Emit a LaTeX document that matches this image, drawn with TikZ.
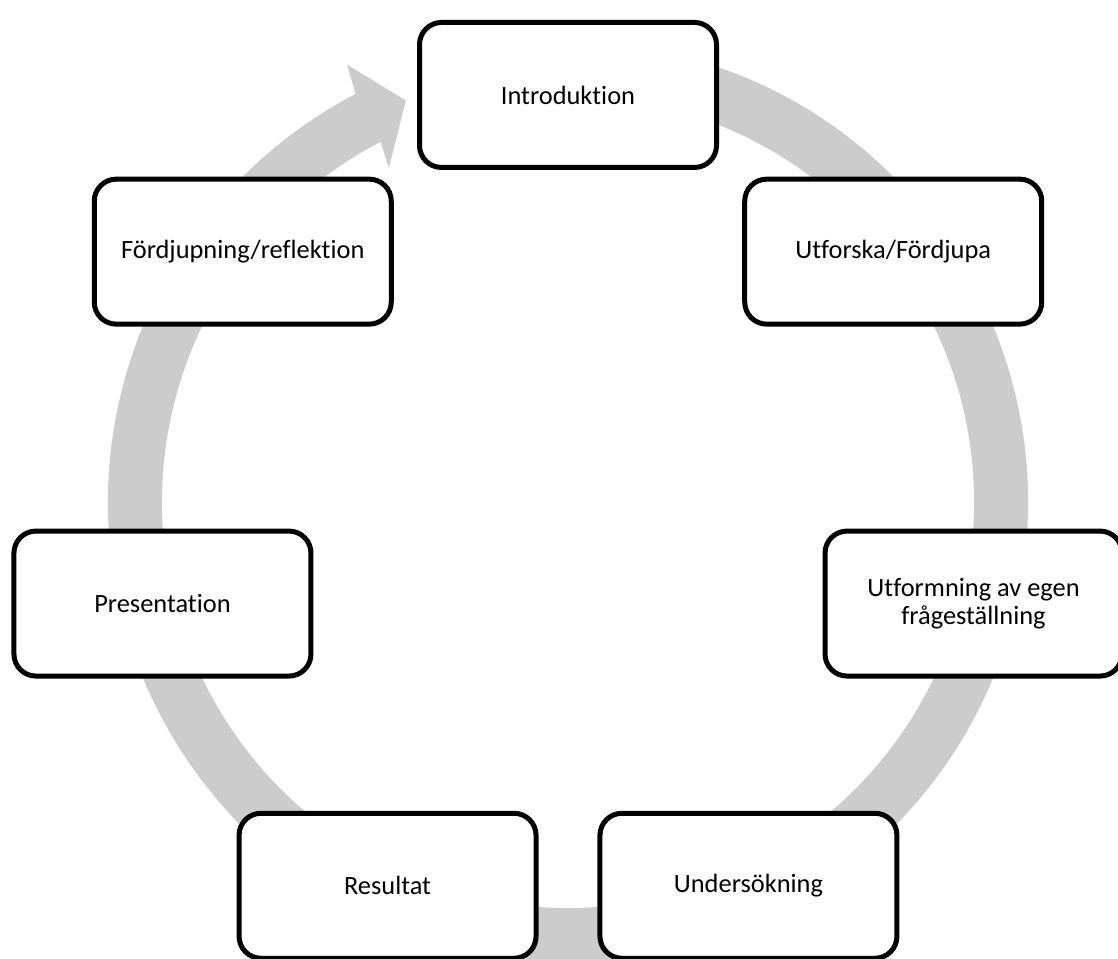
\documentclass[tikz,border=0pt]{standalone}
\usepackage{fontspec}
\setmainfont{Carlito}[Ligatures=NoCommon]
\definecolor{ringgray}{RGB}{204,204,204}
\tikzset{
  stagebox/.style={draw=black, line width=3.75pt, fill=white, rounded corners=16.5pt,
    minimum width=222.75pt, minimum height=108.75pt, align=center, text=black,
    font={\fontsize{19.8}{20.5}\selectfont}, inner sep=0pt},
  ringband/.style={fill=ringgray, draw=none}
}
\begin{document}
\begin{tikzpicture}[x=0.75pt, y=0.75pt]
  \useasboundingbox (0,0) rectangle (1118,959);
  % circular band with arrow head returning to the first stage
  \begin{scope}[shift={(568,457)}]
    \path[ringband] (75:460) arc[start angle=75, end angle=-242.5, radius=460]
      -- (-243.2:490) -- (-248:433) -- (-241.8:379) -- (-242.5:406)
      arc[start angle=-242.5, end angle=75, radius=406] -- cycle;
  \end{scope}
  % the seven stages placed on a circle
  \begin{scope}[shift={(568,448)}]
    \node[stagebox] (intro)   at (90:416)        {Introduktion};
    \node[stagebox] (utforska) at (38.57:416)    {Utforska/Fördjupa};
    \node[stagebox] (fraga)   at (-12.86:416)    {Utformning av egen\\frågeställning};
    \node[stagebox] (unders)  at (-64.29:416)    {Undersökning};
    \node[stagebox] (result)  at (-115.71:416)   {Resultat};
    \node[stagebox] (present) at (-167.14:416)   {Presentation};
    \node[stagebox] (reflekt) at (141.43:416)    {Fördjupning/reflektion};
  \end{scope}
\end{tikzpicture}
\end{document}
